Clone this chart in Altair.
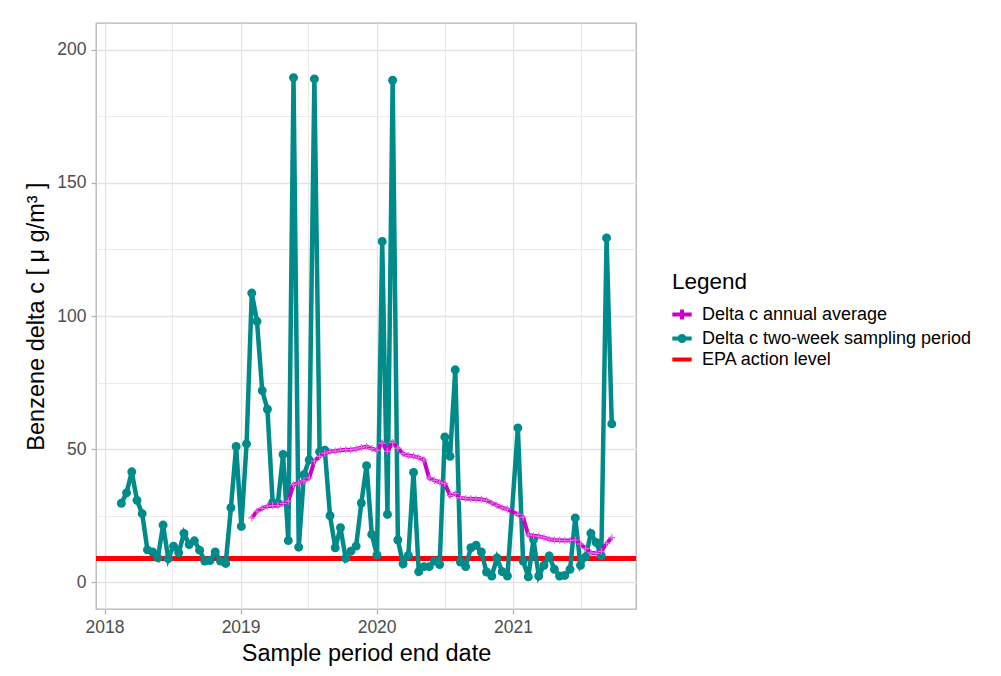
import altair as alt
import pandas as pd

# ---- data ----
sample_dates = [
    "2018-02-15", "2018-03-01", "2018-03-15", "2018-03-29", "2018-04-12", "2018-04-26",
    "2018-05-10", "2018-05-24", "2018-06-07", "2018-06-21", "2018-07-05", "2018-07-19",
    "2018-08-02", "2018-08-16", "2018-08-30", "2018-09-13", "2018-09-27", "2018-10-11",
    "2018-10-25", "2018-11-08", "2018-11-22", "2018-12-06", "2018-12-20",
    "2019-01-03", "2019-01-17", "2019-01-31", "2019-02-14", "2019-02-28", "2019-03-14",
    "2019-03-28", "2019-04-11", "2019-04-25", "2019-05-09", "2019-05-23", "2019-06-06",
    "2019-06-20", "2019-07-04", "2019-07-18", "2019-08-01", "2019-08-15", "2019-08-29",
    "2019-09-12", "2019-09-26", "2019-10-10", "2019-10-24", "2019-11-07", "2019-11-21",
    "2019-12-05", "2019-12-19",
    "2020-01-02", "2020-01-16", "2020-01-30", "2020-02-13", "2020-02-27", "2020-03-12",
    "2020-03-26", "2020-04-09", "2020-04-23", "2020-05-07", "2020-05-21", "2020-06-04",
    "2020-06-18", "2020-07-02", "2020-07-16", "2020-07-30", "2020-08-13", "2020-08-27",
    "2020-09-10", "2020-09-24", "2020-10-08", "2020-10-22", "2020-11-05", "2020-11-19",
    "2020-12-03", "2020-12-17",
    "2021-01-14", "2021-01-28", "2021-02-11", "2021-02-25", "2021-03-11", "2021-03-25",
    "2021-04-08", "2021-04-22", "2021-05-06", "2021-05-20", "2021-06-03", "2021-06-17",
    "2021-07-01", "2021-07-15", "2021-07-29", "2021-08-12", "2021-08-26", "2021-09-09",
    "2021-09-23",
]

two_week_values = [
    29.7, 33.6, 41.5, 30.8, 25.8, 12.2, 11.4, 9.2, 21.5, 8.9, 13.6, 11.1,
    18.4, 14.2, 15.6, 12.1, 8.0, 8.2, 11.4, 8.0, 7.1, 28.0, 51.0,
    21.0, 52.0, 108.6, 98.0, 72.0, 65.0, 30.0, 29.8, 48.0, 15.7, 189.5, 13.2,
    40.4, 46.0, 189.0, 49.0, 49.6, 25.0, 13.0, 20.5, 9.0, 11.7, 13.6, 29.8,
    43.8, 18.0,
    10.3, 128.0, 25.5, 188.5, 15.9, 7.0, 10.1, 41.3, 4.0, 5.9, 5.9, 8.0,
    6.7, 54.6, 47.3, 79.8, 7.6, 5.9, 13.0, 13.9, 11.4, 3.9, 2.4, 9.2,
    4.0, 2.4,
    58.0, 8.0, 2.1, 16.1, 2.4, 6.4, 9.9, 4.9, 2.4, 2.6, 4.9, 24.2,
    6.4, 9.6, 18.4, 15.0, 10.0, 129.3, 59.5,
]

annual_dates = sample_dates[25:]
annual_avg_values = [
    24.2, 26.7, 27.8, 28.6, 28.8, 28.8, 29.6, 30.5, 36.7, 37.3, 38.1, 39.2,
    45.5, 47.3, 48.5, 49.1, 49.3, 49.6, 49.8, 49.8, 50.1, 50.6, 51.0, 50.2,
    49.6, 52.3, 49.2, 52.5, 50.4, 48.3, 47.6, 47.4, 46.8, 46.0, 39.2, 38.3,
    37.6, 37.1, 32.6, 33.3, 31.7, 31.5, 31.4, 31.3, 31.2, 30.8, 29.8, 28.9,
    28.0, 27.5,
    25.5, 24.5, 17.8, 17.5, 17.3, 16.8, 16.2, 15.9, 15.8, 15.7, 15.7, 15.9,
    14.4, 12.7, 11.1, 10.9, 11.6, 14.6, 16.8,
]

epa_level = [9]

legend_labels = [
    "Delta c annual average",
    "Delta c two-week sampling period",
    "EPA action level",
]
legend_colors = ["#CC00CC", "#008B8B", "#FF0000"]
legend_shapes = [
    "M-1.25,0H1.25M0,-0.65V0.65",
    "M-1.25,0H1.25M0.32,0A0.32,0.32 0 1,1 -0.32,0A0.32,0.32 0 1,1 0.32,0",
    "M-1.25,0H1.25",
]

x_major = [2018, 2019, 2020, 2021]

# ---- frames ----
two_week_df = pd.DataFrame({"date": sample_dates, "value": two_week_values})
annual_df = pd.DataFrame({"date": annual_dates, "value": annual_avg_values})
epa_df = pd.DataFrame({"level": epa_level})
legend_df = pd.DataFrame({"series": legend_labels})

FONT = "Liberation Sans"
GRID = "#e3e3e3"

x_values = []
for y in x_major:
    x_values.append(alt.DateTime(year=y, month=1, date=1))
    x_values.append(alt.DateTime(year=y, month=7, date=2))

x_enc = alt.X(
    "date:T",
    title="Sample period end date",
    scale=alt.Scale(
        domain=[alt.DateTime(year=2017, month=12, date=9),
                alt.DateTime(year=2021, month=11, date=27)]
    ),
    axis=alt.Axis(
        values=x_values,
        labelExpr="month(datum.value) == 0 ? timeFormat(datum.value, '%Y') : ''",
        gridWidth={"condition": {"test": "month(datum.value) == 0", "value": 1.3}, "value": 0.7},
        tickOpacity={"condition": {"test": "month(datum.value) == 0", "value": 1}, "value": 0},
        labelFlush=False,
    ),
)

y_enc = alt.Y(
    "value:Q",
    title="Benzene delta c [ μ g/m³ ]",
    scale=alt.Scale(domain=[-10, 210], nice=False, zero=False),
    axis=alt.Axis(
        values=list(range(0, 201, 25)),
        labelExpr="datum.value % 50 == 0 ? datum.label : ''",
        gridWidth={"condition": {"test": "datum.value % 50 == 0", "value": 1.3}, "value": 0.7},
        tickOpacity={"condition": {"test": "datum.value % 50 == 0", "value": 1}, "value": 0},
    ),
)

red = alt.Chart(epa_df).mark_rule(color="#FF0000", strokeWidth=5).encode(
    y=alt.Y("level:Q", scale=alt.Scale(domain=[-10, 210], nice=False, zero=False))
)

teal_line = alt.Chart(two_week_df).mark_line(color="#008B8B", strokeWidth=4.5).encode(x=x_enc, y=y_enc)
teal_pts = alt.Chart(two_week_df).mark_point(
    filled=True, color="#008B8B", size=80, opacity=1, shape="circle"
).encode(x="date:T", y="value:Q")

pink_line = alt.Chart(annual_df).mark_line(color="#CC00CC", strokeWidth=4).encode(x="date:T", y="value:Q")
pink_pts = alt.Chart(annual_df).mark_point(
    shape="M-1,0H1M0,-1V1", filled=False, color="#E070E0", size=50, strokeWidth=1.2, opacity=1
).encode(x="date:T", y="value:Q")

leg = alt.Legend(
    title="Legend",
    orient="none",
    legendX=576,
    legendY=248,
    titleFont=FONT,
    titleFontSize=22.5,
    titleFontWeight="normal",
    titleColor="black",
    titlePadding=11,
    labelFont=FONT,
    labelFontSize=18,
    labelColor="black",
    labelOffset=10,
    labelLimit=0,
    symbolSize=240,
    symbolStrokeWidth=4,
    rowPadding=-6,
)

legend_layer = alt.Chart(legend_df).mark_point(filled=False, opacity=1).encode(
    color=alt.Color("series:N", scale=alt.Scale(domain=legend_labels, range=legend_colors), legend=leg),
    shape=alt.Shape("series:N", scale=alt.Scale(domain=legend_labels, range=legend_shapes), legend=leg),
).transform_filter("false")

chart = alt.layer(red, teal_line, teal_pts, pink_line, pink_pts, legend_layer).properties(
    width=540,
    height=586,
    padding={"left": 16, "top": 15, "right": 5, "bottom": 5},
    background="white",
).configure_view(
    stroke="#b3b3b3", strokeWidth=1.3
).configure_axis(
    domain=False,
    gridColor=GRID,
    tickColor="#b3b3b3",
    tickWidth=1.3,
    tickSize=5,
    labelFont=FONT,
    labelFontSize=17.5,
    labelColor="#4d4d4d",
    labelPadding=5,
    titleFont=FONT,
    titleFontSize=23.5,
    titleFontWeight="normal",
    titleColor="black",
).configure_axisY(
    titlePadding=8,
).configure_axisX(
    titlePadding=6,
    labelPadding=4,
)

chart.save("out.html", embed_options={"renderer": "svg", "actions": False})
